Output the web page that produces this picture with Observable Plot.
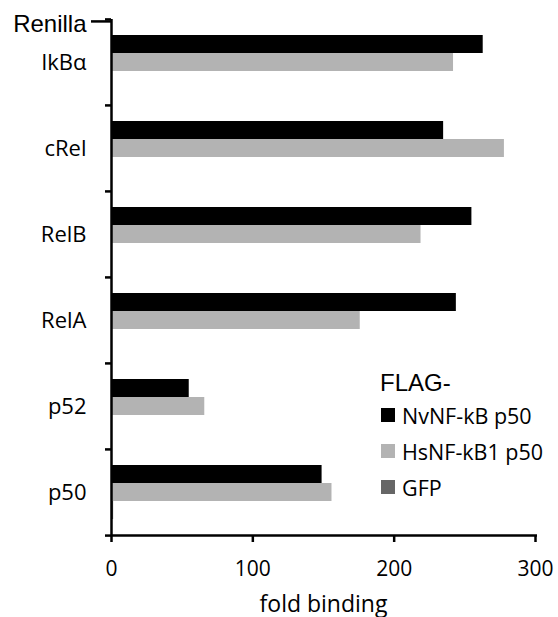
<!DOCTYPE html>
<html>
<head>
<meta charset="utf-8">
<script src="https://cdn.jsdelivr.net/npm/d3@7"></script>
<script src="https://cdn.jsdelivr.net/npm/@observablehq/plot@0.6"></script>
<style>
  html, body { margin: 0; padding: 0; background: white; }
  #wrap { position: relative; width: 558px; height: 617px; }
  #legend { position: absolute; left: 380px; top: 368px; color: black; }
  #legend .title { font-family: "Liberation Sans", Arial, sans-serif; font-size: 24px; height: 29px; line-height: 29px; }
  #legend .item { display: flex; align-items: center; height: 36px; font-family: "Open Sans", sans-serif; font-size: 21.5px; }
  #legend .sw { width: 14px; height: 14px; margin-left: 1px; margin-right: 7px; }
</style>
</head>
<body>
<div id="wrap"></div>
<script>
// ---- data ----
const categories = ["IkBα", "cRel", "RelB", "RelA", "p52", "p50"];
const series = ["NvNF-kB p50", "HsNF-kB1 p50", "GFP"];
const nvValues = [263, 235, 255, 244, 55, 149];
const hsValues = [242, 278, 219, 176, 66, 156];
const gfpValues = [0.4, 0.4, 0.6, 0.4, 0.4, 1.5];
const colors = ["#000000", "#b3b3b3", "#666666"];
const xTicks = [0, 100, 200, 300];
const topLabel = "Renilla";
const legendTitle = "FLAG-";
const xLabel = "fold binding";

const seriesValues = [nvValues, hsValues, gfpValues];
const data = [];
categories.forEach((c, i) => {
  series.forEach((s, j) => data.push({category: c, series: s, value: seriesValues[j][i]}));
});

const W = 558, H = 617, mLeft = 111, mRight = 23, mTop = 18, mBottom = 82;
const bw = (H - mTop - mBottom) / categories.length;
const innerW = W - mLeft - mRight;
const lastCat = categories[categories.length - 1];

const chart = Plot.plot({
  width: W,
  height: H,
  marginLeft: mLeft,
  marginRight: mRight,
  marginTop: mTop,
  marginBottom: mBottom,
  style: {fontFamily: "Open Sans, sans-serif", fontSize: "21px", color: "black", background: "white"},
  fy: {domain: categories, paddingInner: 0, paddingOuter: 0, axis: null},
  y: {domain: series, paddingInner: 0, paddingOuter: 0.83, axis: null},
  x: {domain: [0, 300], axis: null},
  color: {domain: series, range: colors},
  marks: [
    Plot.barX(data, {x: "value", y: "series", fy: "category", fill: "series"}),
    Plot.ruleX([0], {stroke: "black", strokeWidth: 2.5}),
    // x axis line (bottom boundary, drawn inward across the frame)
    Plot.axisFy({anchor: "left", ticks: [lastCat], text: null, tickSize: -(innerW + 2), strokeWidth: 2.5, dy: bw / 2, label: null}),
    Plot.axisX({ticks: xTicks, tickSize: 7, tickPadding: 19, strokeWidth: 2.5, label: null, fontSize: 21}),
    Plot.axisX({ticks: [], tickSize: 0, label: xLabel, labelAnchor: "center", labelArrow: "none", labelOffset: 76, dx: 11, fontSize: 23}),
    Plot.axisFy({anchor: "left", tickSize: 0, tickPadding: 25, label: null, fontSize: 22}),
    Plot.axisFy({anchor: "left", text: null, tickSize: 6, strokeWidth: 2.5, dy: -bw / 2, label: null}),
    Plot.axisFy({anchor: "left", ticks: [lastCat], text: null, tickSize: 6, strokeWidth: 2.5, dy: bw / 2, label: null}),
    Plot.axisFy({anchor: "left", ticks: [categories[0]], text: null, tickSize: 20, strokeWidth: 2.5, dy: -bw / 2 + 2, label: null}),
    Plot.axisFy({anchor: "left", ticks: [categories[0]], tickSize: 0, tickPadding: 25, tickFormat: () => topLabel, dy: -bw / 2 + 5,
                 label: null, fontSize: 24, fontFamily: "Liberation Sans, Arial, sans-serif"})
  ]
});

const wrap = document.getElementById("wrap");
wrap.appendChild(chart);

// legend
const legend = document.createElement("div");
legend.id = "legend";
const t = document.createElement("div");
t.className = "title";
t.textContent = legendTitle;
legend.appendChild(t);
series.forEach((s, j) => {
  const it = document.createElement("div");
  it.className = "item";
  const sw = document.createElement("span");
  sw.className = "sw";
  sw.style.background = colors[j];
  const lab = document.createElement("span");
  lab.textContent = s;
  it.appendChild(sw);
  it.appendChild(lab);
  legend.appendChild(it);
});
wrap.appendChild(legend);
</script>
</body>
</html>
